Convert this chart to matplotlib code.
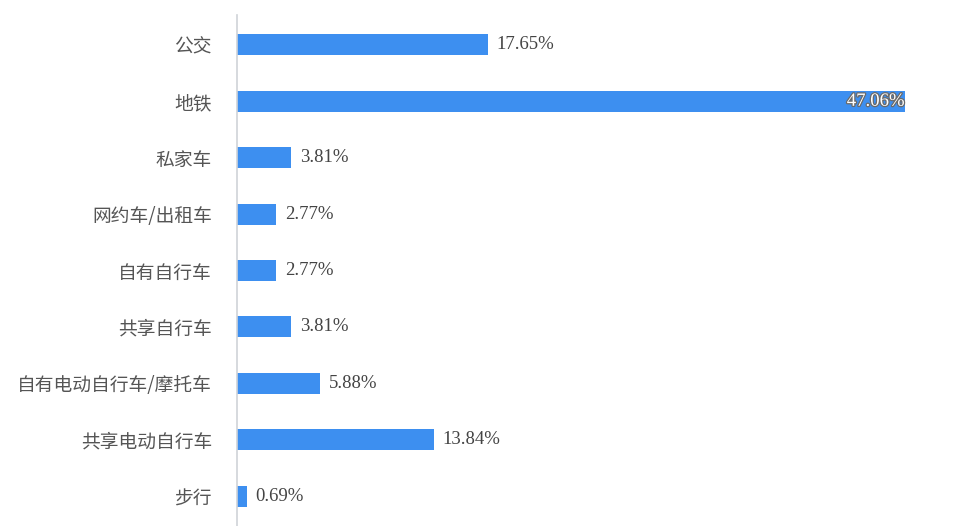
import matplotlib
matplotlib.use("Agg")
import matplotlib.pyplot as plt
import matplotlib.patheffects as pe

categories = ["公交", "地铁", "私家车", "网约车/出租车", "自有自行车",
              "共享自行车", "自有电动自行车/摩托车", "共享电动自行车", "步行"]
shares = [17.65, 47.06, 3.81, 2.77, 2.77, 3.81, 5.88, 13.84, 0.69]

fig = plt.figure(figsize=(9.64, 5.26), dpi=100)
ax = fig.add_axes([237 / 964, 0, (947 - 237) / 964, 511 / 526])

ypos = list(range(len(categories)))
bars = ax.barh(ypos, shares, height=0.37, color="#3d8ff0", zorder=2)

ax.set_xlim(0, 50)
ax.set_ylim(len(categories) - 0.47, -0.53)
ax.set_yticks(ypos)
ax.set_yticklabels(categories, family=["Noto Sans CJK SC", "DejaVu Sans"],
                   fontsize=13.5, color="#555555")
ax.tick_params(axis="y", length=0, pad=18)
ax.set_xticks([])
for side in ["top", "right", "bottom"]:
    ax.spines[side].set_visible(False)
ax.spines["left"].set_color("#cfd3d8")
ax.spines["left"].set_linewidth(1.2)

vmax = max(shares)
for bar, v in zip(bars, shares):
    y = bar.get_y() + bar.get_height() / 2
    label = f"{v:.2f}%"
    if v == vmax:
        ax.text(v - 0.05, y, label, ha="right", va="center", fontsize=13.5,
                family="Liberation Serif", color="white",
                path_effects=[pe.withStroke(linewidth=1.8, foreground="#6a6a6a")])
    else:
        ax.text(v + 0.6, y, label, ha="left", va="center", fontsize=13.5,
                family="Liberation Serif", color="#444444")

fig.savefig("out.png", dpi=100)
